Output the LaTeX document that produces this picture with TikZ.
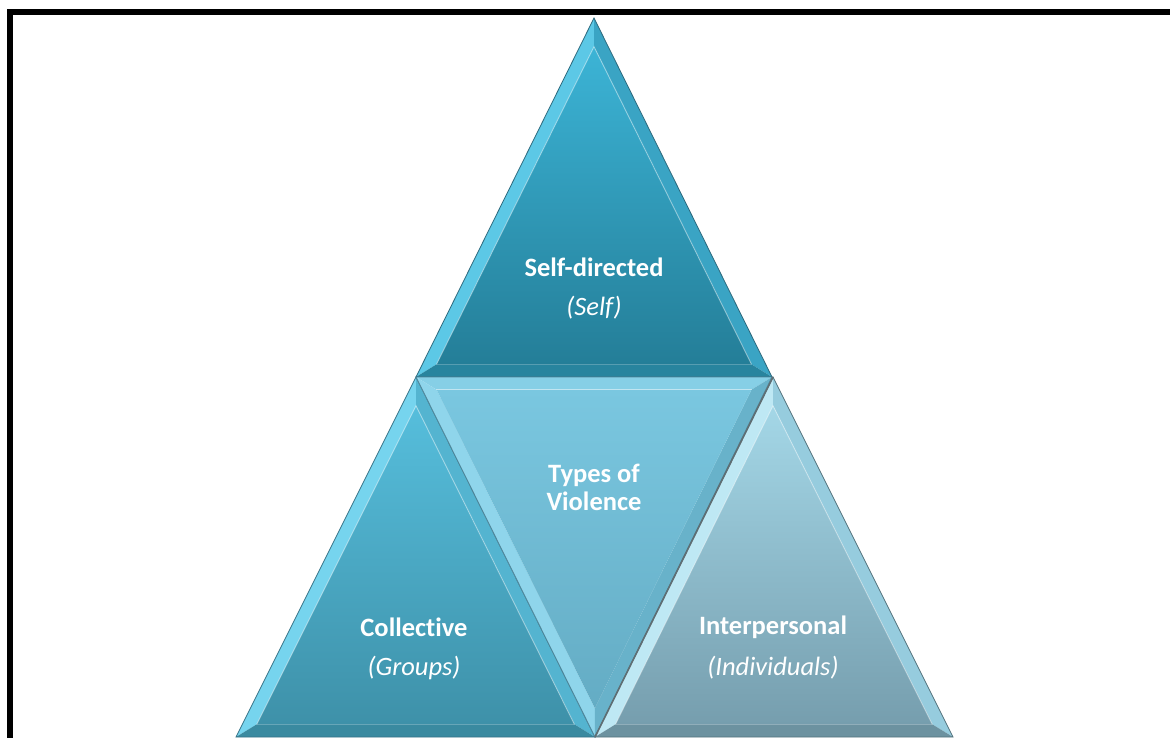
\documentclass[tikz,border=0pt]{standalone}
\usepackage{fontspec}
\setmainfont{Carlito}[Ligatures=NoCommon]
\usetikzlibrary{calc}
% top triangle
\definecolor{tL}{RGB}{92,200,230}
\definecolor{tR}{RGB}{58,164,196}
\definecolor{tBo}{RGB}{40,132,158}
\definecolor{tTop}{RGB}{60,180,214}
\definecolor{tBot}{RGB}{36,126,152}
\definecolor{tEdge}{RGB}{45,105,125}
% left triangle
\definecolor{lL}{RGB}{118,212,238}
\definecolor{lR}{RGB}{84,180,208}
\definecolor{lBo}{RGB}{58,138,160}
\definecolor{lTop}{RGB}{86,190,220}
\definecolor{lBot}{RGB}{62,145,169}
\definecolor{lEdge}{RGB}{55,115,135}
% middle triangle
\definecolor{mT}{RGB}{134,207,230}
\definecolor{mL}{RGB}{143,213,235}
\definecolor{mR}{RGB}{104,178,202}
\definecolor{mTop}{RGB}{122,199,224}
\definecolor{mBot}{RGB}{100,172,196}
\definecolor{mEdge}{RGB}{80,135,155}
% right triangle
\definecolor{rL}{RGB}{190,232,244}
\definecolor{rR}{RGB}{150,204,222}
\definecolor{rBo}{RGB}{108,146,160}
\definecolor{rTop}{RGB}{164,215,231}
\definecolor{rBot}{RGB}{118,158,174}
\definecolor{rEdge}{RGB}{85,115,125}
\definecolor{seam}{RGB}{95,110,115}
\tikzset{
  edge/.style={draw=#1,line width=0.8pt,line join=miter},
  shine/.style={white,opacity=0.38,line width=1pt},
  lbl/.style={text=white,font=\fontsize{26.5}{28}\selectfont\bfseries,inner sep=0pt,align=center},
  sub/.style={text=white,font=\fontsize{26.5}{28}\selectfont\itshape,inner sep=0pt,align=center},
}
\begin{document}
\begin{tikzpicture}[x=1pt,y=-1pt]
\useasboundingbox (0,0) rectangle (1170,738);
\clip (0,0) rectangle (1170,738);
\fill[white] (0,0) rectangle (1170,738);
% frame
\draw[line width=6pt] (10,760) -- (10,12) -- (1200,12);

% ---------- top triangle (Self-directed)
\coordinate (tA) at (594,18);
\coordinate (tB) at (416,377);
\coordinate (tC) at (772,377);
\coordinate (tI) at (594,267);
\coordinate (ta) at ($(tI)!0.885!(tA)$);
\coordinate (tb) at ($(tI)!0.885!(tB)$);
\coordinate (tc) at ($(tI)!0.885!(tC)$);
\fill[tL] (tA)--(tB)--(tb)--(ta)--cycle;
\fill[tR] (tA)--(tC)--(tc)--(ta)--cycle;
\fill[tBo] (tB)--(tC)--(tc)--(tb)--cycle;
\shade[top color=tTop,bottom color=tBot] (ta)--(tb)--(tc)--cycle;
\draw[shine] (tb)--(ta)--(tc);
\draw[edge=tEdge] (tA)--(tB)--(tC)--cycle;

% ---------- left triangle (Collective)
\coordinate (lA) at (416,377);
\coordinate (lB) at (236,737);
\coordinate (lC) at (595,737);
\coordinate (lI) at (416,627);
\coordinate (la) at ($(lI)!0.885!(lA)$);
\coordinate (lb) at ($(lI)!0.885!(lB)$);
\coordinate (lc) at ($(lI)!0.885!(lC)$);
\fill[lL] (lA)--(lB)--(lb)--(la)--cycle;
\fill[lR] (lA)--(lC)--(lc)--(la)--cycle;
\fill[lBo] (lB)--(lC)--(lc)--(lb)--cycle;
\shade[top color=lTop,bottom color=lBot] (la)--(lb)--(lc)--cycle;
\draw[shine] (lb)--(la)--(lc);
\draw[edge=lEdge] (lA)--(lB)--(lC)--cycle;

% ---------- middle inverted triangle (Types of Violence)
\coordinate (mA) at (416,377);
\coordinate (mB) at (772,377);
\coordinate (mC) at (595,737);
\coordinate (mI) at (594,487);
\coordinate (ma) at ($(mI)!0.885!(mA)$);
\coordinate (mb) at ($(mI)!0.885!(mB)$);
\coordinate (mc) at ($(mI)!0.885!(mC)$);
\fill[mT] (mA)--(mB)--(mb)--(ma)--cycle;
\fill[mL] (mA)--(mC)--(mc)--(ma)--cycle;
\fill[mR] (mB)--(mC)--(mc)--(mb)--cycle;
\shade[top color=mTop,bottom color=mBot] (ma)--(mb)--(mc)--cycle;
\draw[shine] (ma)--(mb);
\draw[edge=mEdge] (mA)--(mB)--(mC)--cycle;

% ---------- right triangle (Interpersonal)
\coordinate (rA) at (773,377);
\coordinate (rB) at (595,737);
\coordinate (rC) at (953,737);
\coordinate (rI) at (773,627);
\coordinate (ra) at ($(rI)!0.885!(rA)$);
\coordinate (rb) at ($(rI)!0.885!(rB)$);
\coordinate (rc) at ($(rI)!0.885!(rC)$);
\fill[rL] (rA)--(rB)--(rb)--(ra)--cycle;
\fill[rR] (rA)--(rC)--(rc)--(ra)--cycle;
\fill[rBo] (rB)--(rC)--(rc)--(rb)--cycle;
\shade[top color=rTop,bottom color=rBot] (ra)--(rb)--(rc)--cycle;
\draw[shine] (rb)--(ra)--(rc);
\draw[edge=rEdge] (rA)--(rB)--(rC)--cycle;
\draw[line width=1.6pt,seam] (rA)--(rB);

% ---------- labels
\node[lbl] (self) at (594,267) {Self-directed};
\node[sub] (selfs) at (594,308) {(Self)};
\node[lbl] (types) at (594,487) {Types of\\Violence};
\node[lbl] (coll) at (414,627) {Collective};
\node[sub] (colls) at (414,668) {(Groups)};
\node[lbl] (inter) at (773,627) {Interpersonal};
\node[sub] (inters) at (773,668) {(Individuals)};
\end{tikzpicture}
\end{document}
